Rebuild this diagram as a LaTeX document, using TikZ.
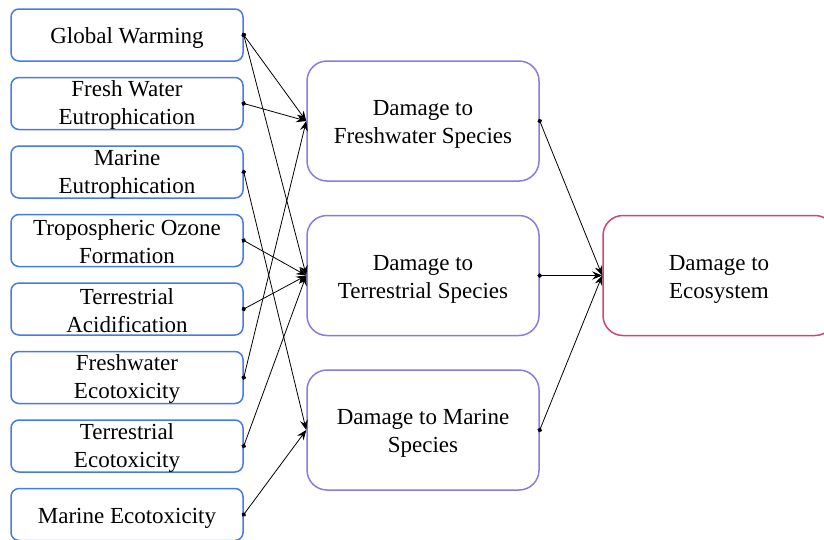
\documentclass[tikz,border=0pt]{standalone}
\usepackage{fontspec}
\newfontfamily\diagfont{Liberation Serif}
\usepackage{tikz}
\usetikzlibrary{positioning}
\usetikzlibrary{arrows.meta}
\definecolor{impactblue}{RGB}{72,122,228}
\definecolor{damagepurple}{RGB}{140,122,228}
\definecolor{ecopink}{RGB}{212,68,112}
\newcommand{\lowstrut}{\rule{0pt}{22pt}}
\newcommand{\midstrut}{\rule{0pt}{19pt}}
\tikzstyle{impactbox}=[rectangle,rounded corners=8pt,line width=1.5pt,draw=impactblue,
minimum width=232pt,minimum height=52pt,inner sep=0pt,align=center,
font=\diagfont\fontsize{23}{28}\selectfont]
\tikzstyle{damagebox}=[rectangle,rounded corners=20pt,line width=1.5pt,draw=damagepurple,
minimum width=232pt,minimum height=120pt,align=center,
font=\diagfont\fontsize{23}{28}\selectfont]
\tikzstyle{ecobox}=[damagebox,draw=ecopink]
\tikzstyle{edgepath} = [{Diamond[length=5pt,width=5pt]}-{Stealth[length=10pt,width=8pt,inset=3.5pt]},
line width=0.8pt,shorten <=-2.5pt]

\begin{document}
\begin{tikzpicture}[x=1pt,y=1pt]
    \useasboundingbox (0,0) rectangle (824,-539);
    % midpoint categories
    \node[impactbox] (gw) at (127,-35) {\lowstrut Global Warming};
    \node[impactbox, below=15pt of gw] (fwe) {\midstrut Fresh Water\\Eutrophication};
    \node[impactbox, below=15pt of fwe] (me) {\midstrut Marine\\Eutrophication};
    \node[impactbox, below=15pt of me] (tof) {\midstrut Tropospheric Ozone\\Formation};
    \node[impactbox, below=15pt of tof] (tac) {\midstrut Terrestrial\\Acidification};
    \node[impactbox, below=15pt of tac] (fwet) {\midstrut Freshwater\\Ecotoxicity};
    \node[impactbox, below=15pt of fwet] (tet) {\midstrut Terrestrial\\Ecotoxicity};
    \node[impactbox, below=15pt of tet] (met) {\lowstrut Marine Ecotoxicity};

    % endpoint categories
    \node[damagebox] (fws) at (423,-121) {\lowstrut Damage to\\Freshwater Species};
    \node[damagebox, below=33pt of fws] (tes) {\lowstrut Damage to\\Terrestrial Species};
    \node[damagebox, below=33pt of tes] (mas) {\lowstrut Damage to Marine\\Species};
    \node[ecobox, right=62.5pt of tes] (eco) {\lowstrut Damage to\\Ecosystem};

    \path[edgepath]
        (gw.east) edge (fws.west)
        (gw.east) edge (tes.west)
        (fwe.east) edge (fws.west)
        (me.east) edge (mas.west)
        (tof.east) edge (tes.west)
        (tac.east) edge (tes.west)
        (fwet.east) edge (fws.west)
        (tet.east) edge (tes.west)
        (met.east) edge (mas.west);
    \path[edgepath]
        (fws.east) edge (eco.west)
        (tes.east) edge (eco.west)
        (mas.east) edge (eco.west);
\end{tikzpicture}
\end{document}
